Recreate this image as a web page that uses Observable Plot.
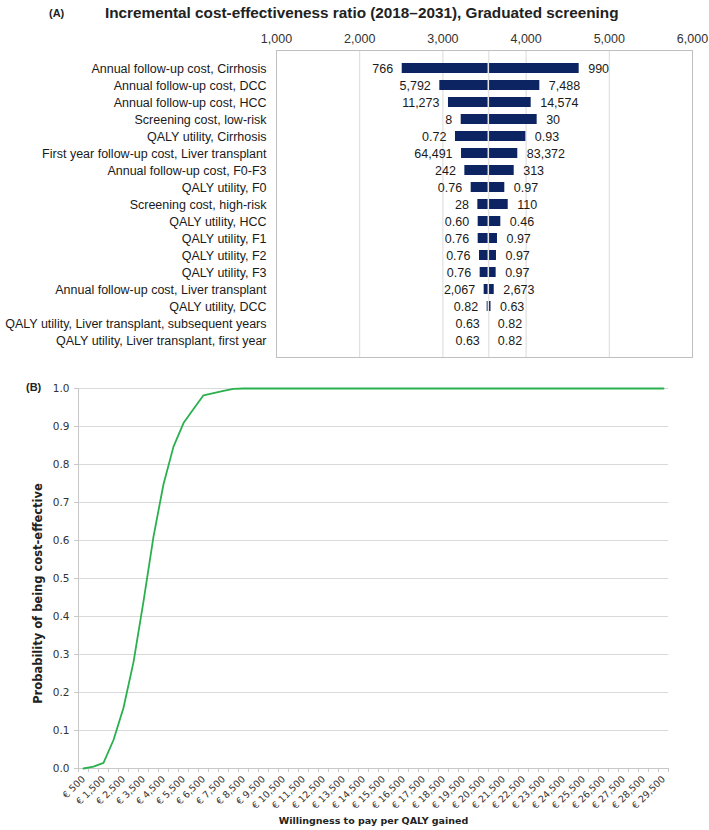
<!DOCTYPE html>
<html><head><meta charset="utf-8">
<script src="https://cdn.jsdelivr.net/npm/d3@7"></script>
<script src="https://cdn.jsdelivr.net/npm/@observablehq/plot@0.6"></script>
<style>
body{margin:0;background:#fff;}
#wrap{position:relative;width:709px;height:830px;overflow:hidden;background:#fff;}
.abs{position:absolute;white-space:nowrap;}
</style></head><body>
<div id="wrap">
 <div id="chartA" class="abs" style="left:0;top:0"></div>
 <div id="chartB" class="abs" style="left:0;top:370px"></div>
 <div class="abs" style="left:49px;top:7px;font:bold 11px 'Liberation Sans Narrow','Liberation Sans',Arial;color:#222">(A)</div>
 <div class="abs" style="left:105px;top:4px;font:bold 15.3px 'Liberation Sans Narrow','Liberation Sans',Arial;color:#222">Incremental cost-effectiveness ratio (2018–2031), Graduated screening</div>
 <div class="abs" style="left:26px;top:381px;font:bold 11px 'Liberation Sans',Arial;color:#222">(B)</div>
</div>
<script>
// ---------- Panel A data ----------
const params = [
  "Annual follow-up cost, Cirrhosis",
  "Annual follow-up cost, DCC",
  "Annual follow-up cost, HCC",
  "Screening cost, low-risk",
  "QALY utility, Cirrhosis",
  "First year follow-up cost, Liver transplant",
  "Annual follow-up cost, F0-F3",
  "QALY utility, F0",
  "Screening cost, high-risk",
  "QALY utility, HCC",
  "QALY utility, F1",
  "QALY utility, F2",
  "QALY utility, F3",
  "Annual follow-up cost, Liver transplant",
  "QALY utility, DCC",
  "QALY utility, Liver transplant, subsequent years",
  "QALY utility, Liver transplant, first year"
];
const lowLabels  = ["766","5,792","11,273","8","0.72","64,491","242","0.76","28","0.60","0.76","0.76","0.76","2,067","0.82","0.63","0.63"];
const highLabels = ["990","7,488","14,574","30","0.93","83,372","313","0.97","110","0.46","0.97","0.97","0.97","2,673","0.63","0.82","0.82"];
const baseICER = 3552;
const lowICER  = [2511,2963,3067,3220,3151,3224,3264,3340,3420,3424,3424,3440,3448,3496,3532,3552,3552];
const highICER = [4638,4165,4061,4133,3997,3900,3857,3744,3785,3696,3656,3644,3640,3617,3578,3552,3552];
const xTicksA = [1000,2000,3000,4000,5000,6000];
const gridA = [2000,3000,4000,5000];

// ---------- Panel B data ----------
const wtp = [500,1000,1500,2000,2500,3000,3500,4000,4500,5000,5500,6000,6500,7000,7500,8000,8500,9000,9500,10000,
  10500,11000,11500,12000,12500,13000,13500,14000,14500,15000,15500,16000,16500,17000,17500,18000,18500,19000,19500,20000,
  20500,21000,21500,22000,22500,23000,23500,24000,24500,25000,25500,26000,26500,27000,27500,28000,28500,29000,29500];
const prob = [0.000,0.005,0.015,0.075,0.160,0.280,0.440,0.610,0.748,0.847,0.909,0.946,0.982,0.988,0.994,0.999,1,1,1,1,
  1,1,1,1,1,1,1,1,1,1,1,1,1,1,1,1,1,1,1,1,
  1,1,1,1,1,1,1,1,1,1,1,1,1,1,1,1,1,1,1];
const xLabelTicksB = [500,1500,2500,3500,4500,5500,6500,7500,8500,9500,10500,11500,12500,13500,14500,15500,16500,17500,18500,19500,20500,21500,22500,23500,24500,25500,26500,27500,28500,29500];
const yTicksB = [0,0.1,0.2,0.3,0.4,0.5,0.6,0.7,0.8,0.9,1.0];

// ---------- Panel A ----------
const rowsA = params.map((p,i)=>({param:p, low:lowICER[i], high:highICER[i], lowLabel:lowLabels[i], highLabel:highLabels[i]}));
const navy = "#0c2461";
const fontA = "'Liberation Sans', Arial, sans-serif";
const chartA = Plot.plot({
  width: 709, height: 362,
  marginLeft: 276, marginRight: 17, marginTop: 50, marginBottom: 5,
  style: {fontFamily: fontA, fontSize: "12.5px", color: "#1a1a1a", background: "transparent"},
  x: {domain: [1000, 6000], axis: null},
  y: {domain: params, padding: 0.42, axis: null},
  marks: [
    Plot.ruleX(gridA, {stroke: "#d9d9d9"}),
    Plot.ruleX([baseICER], {stroke: "#d9d9d9"}),
    Plot.barX(rowsA.filter(d=>d.low<baseICER), {y:"param", x1:"low", x2:()=>baseICER, fill:navy, insetRight:0.75}),
    Plot.barX(rowsA.filter(d=>d.high>baseICER), {y:"param", x1:()=>baseICER, x2:"high", fill:navy, insetLeft:0.75}),
    Plot.text(rowsA, {y:"param", x:"low", text:"lowLabel", textAnchor:"end", dx:-9, fontSize:12.5, fill:"#1a1a1a"}),
    Plot.text(rowsA, {y:"param", x:"high", text:"highLabel", textAnchor:"start", dx:9, fontSize:12.5, fill:"#1a1a1a"}),
    Plot.frame({stroke:"#bfbfbf"}),
    Plot.axisX(xTicksA, {anchor:"top", tickSize:0, tickPadding:8, tickFormat:d3.format(","), fontSize:12.5, label:null, fill:"#333"}),
    Plot.axisY(params, {anchor:"left", tickSize:0, tickPadding:10, fontSize:12.5, label:null, fill:"#1a1a1a"})
  ]
});
document.getElementById("chartA").appendChild(chartA);

// ---------- Panel B ----------
const rowsB = wtp.map((w,i)=>({wtp:w, p:prob[i]}));
const minorTicksB = wtp.map(w=>w-250).concat([29750]);
const fontB = "'DejaVu Sans', Verdana, sans-serif";
const chartB = Plot.plot({
  width: 709, height: 460,
  marginLeft: 78, marginRight: 41, marginTop: 18, marginBottom: 62,
  style: {fontFamily: fontB, fontSize: "10px", color: "#333", background: "transparent"},
  x: {domain: [250, 29750], axis: null},
  y: {domain: [0, 1], axis: null},
  marks: [
    Plot.gridY(yTicksB.slice(1), {stroke:"#d9d9d9", strokeOpacity:1}),
    Plot.ruleY([0], {stroke:"#c8c8c8"}),
    Plot.ruleX([250], {stroke:"#c8c8c8"}),
    Plot.axisY(yTicksB, {anchor:"left", tickSize:4, tickPadding:5, tickFormat:d3.format(".1f"), stroke:"#c8c8c8", fill:"#333", fontSize:10.5, label:null}),
    Plot.axisX(minorTicksB, {anchor:"bottom", tickSize:4, tickFormat:()=>"", stroke:"#c8c8c8", label:null}),
    Plot.axisX(xLabelTicksB, {anchor:"bottom", tickSize:0, tickPadding:9, tickRotate:-45, tickFormat:d=>"€ " + d3.format(",")(d), fontSize:9.5, fill:"#333", label:null}),
    Plot.line(rowsB, {x:"wtp", y:"p", stroke:"#2bb04f", strokeWidth:1.8}),
    Plot.text(["Probability of being cost-effective"], {frameAnchor:"left", textAnchor:"middle", dx:-40, dy:15, rotate:-90, fontWeight:"bold", fontSize:11.5, fill:"#222"}),
    Plot.text(["Willingness to pay per QALY gained"], {frameAnchor:"bottom", textAnchor:"middle", dy:55, fontWeight:"bold", fontSize:9.5, fill:"#222"})
  ]
});
document.getElementById("chartB").appendChild(chartB);
</script>
</body></html>
